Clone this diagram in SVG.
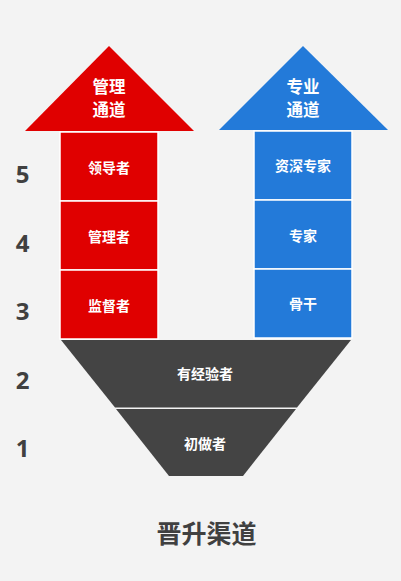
<svg xmlns="http://www.w3.org/2000/svg" width="401" height="581" viewBox="0 0 401 581">
<style>
.red{fill:#e00000}
.blue{fill:#237ad9}
.dark{fill:#444444}
.box{stroke:#ffffff;stroke-width:1.5}
.t{font-family:"Noto Sans CJK SC","Noto Sans",sans-serif;font-weight:bold;fill:#ffffff;text-anchor:middle;dominant-baseline:central}
.num{font-family:"Open Sans","Liberation Sans",sans-serif;font-weight:bold;font-size:24px;fill:#404040;text-anchor:middle}
</style>
<rect width="401" height="581" fill="#f3f3f3"/>
<g id="mgmt-arrow">
<polygon class="red" points="109,46 194,131 25,131"/>
<text class="t" x="109" y="86" font-size="16.5">管理</text>
<text class="t" x="109" y="108.5" font-size="16.5">通道</text>
</g>
<g id="prof-arrow">
<polygon class="blue" points="303,46 388,130 219,130"/>
<text class="t" x="303" y="86" font-size="16.5">专业</text>
<text class="t" x="303" y="108.5" font-size="16.5">通道</text>
</g>
<g id="leader">
<rect class="red box" x="60" y="132" width="98" height="69"/>
<text class="t" x="109" y="167" font-size="14">领导者</text>
</g>
<g id="manager">
<rect class="red box" x="60" y="201" width="98" height="69"/>
<text class="t" x="109" y="236" font-size="14">管理者</text>
</g>
<g id="supervisor">
<rect class="red box" x="60" y="270" width="98" height="69"/>
<text class="t" x="109" y="305" font-size="14">监督者</text>
</g>
<g id="senior-expert">
<rect class="blue box" x="254" y="131" width="98" height="69"/>
<text class="t" x="303" y="165" font-size="14">资深专家</text>
</g>
<g id="expert">
<rect class="blue box" x="254" y="200" width="98" height="69"/>
<text class="t" x="303" y="235" font-size="14">专家</text>
</g>
<g id="backbone">
<rect class="blue box" x="254" y="269" width="98" height="69"/>
<text class="t" x="303" y="303" font-size="14">骨干</text>
</g>
<g id="experienced">
<polygon class="dark" points="61,340 351,340 297,407.5 115,407.5"/>
<text class="t" x="205" y="373" font-size="14">有经验者</text>
</g>
<g id="beginner">
<polygon class="dark" points="116,409 296,409 243,476 169,476"/>
<text class="t" x="205" y="443" font-size="14">初做者</text>
</g>
<g id="levels">
<text class="num" x="22.5" y="183">5</text>
<text class="num" x="22.5" y="252">4</text>
<text class="num" x="22.5" y="320">3</text>
<text class="num" x="22.5" y="389">2</text>
<text class="num" x="22.5" y="457">1</text>
</g>
<g id="connectors"/>
<g id="title">
<text x="206.5" y="531.5" font-family="Noto Sans CJK SC,sans-serif" font-weight="bold" font-size="25" fill="#404040" text-anchor="middle" dominant-baseline="central">晋升渠道</text>
</g>
</svg>
